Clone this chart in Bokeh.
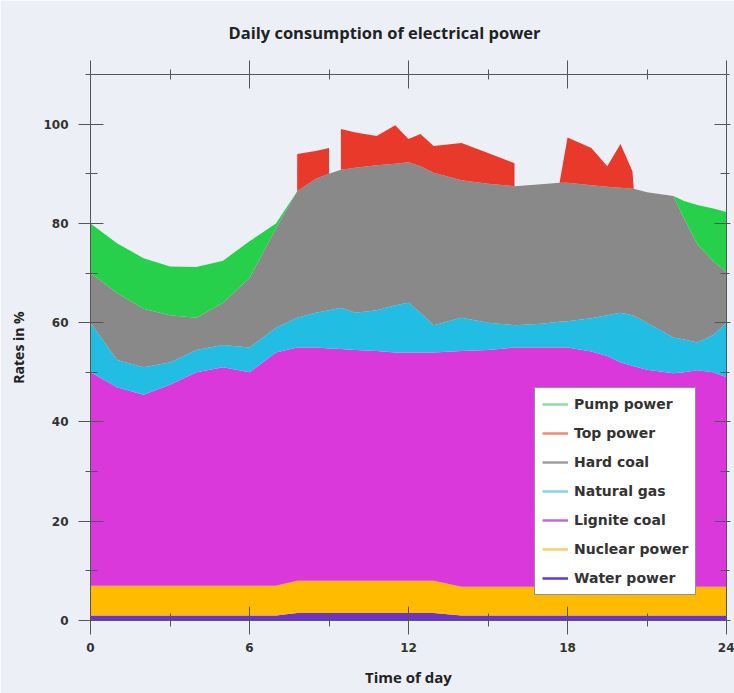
from bokeh.plotting import figure
from bokeh.models import (ColumnDataSource, LinearAxis, SingleIntervalTicker, Legend,
                          LegendItem, Range1d, CustomJSTickFormatter)
from bokeh.embed import file_html
from bokeh.resources import INLINE

# ---- data (hour of day, share in % per source; stacked bottom -> top) ----
hours = [0, 1, 2, 3, 4, 5, 6, 7, 7.8, 7.8, 8.5, 9, 9, 9.45, 9.45, 10, 10.8, 11.5, 12,
         12.45, 12.95, 14, 15, 16, 16, 17, 17.7, 18, 18.9, 19.5, 20, 20.45, 20.5, 21,
         22, 22.4, 22.9, 23.5, 24]
water = [1, 1, 1, 1, 1, 1, 1, 1, 1.5, 1.5, 1.5, 1.5, 1.5, 1.5, 1.5, 1.5, 1.5, 1.5, 1.5,
         1.5, 1.5, 1, 1, 1, 1, 1, 1, 1, 1, 1, 1, 1, 1, 1, 1, 1, 1, 1, 1]
nuclear = [6, 6, 6, 6, 6, 6, 6, 6, 6.5, 6.5, 6.5, 6.5, 6.5, 6.5, 6.5, 6.5, 6.5, 6.5, 6.5,
           6.5, 6.5, 5.8, 5.8, 5.8, 5.8, 5.8, 5.8, 5.8, 5.8, 5.8, 5.8, 5.8, 5.8, 5.8,
           5.8, 5.8, 5.8, 5.8, 5.8]
lignite = [43, 40, 38.5, 40.5, 43, 44, 43, 47, 47, 47, 47, 46.8, 46.8, 46.7, 46.7, 46.5,
           46.3, 46, 46, 46, 46, 47.5, 47.7, 48.2, 48.2, 48.2, 48.2, 48.2, 47.4, 46.5,
           45.2, 44.5, 44.4, 43.7, 43, 43.2, 43.6, 43.2, 42.2]
natural_gas = [10, 5.5, 5.5, 4.5, 4.5, 4.5, 5, 5, 6, 6, 7, 7.7, 7.7, 8.3, 8.3, 7.5, 8.2,
               9.5, 10, 8, 5.5, 6.7, 5.5, 4.5, 4.5, 4.8, 5.2, 5.3, 6.7, 8.2, 10, 10.2,
               10.2, 9.5, 7.2, 6.6, 5.6, 7.5, 11]
hard_coal = [10, 13.5, 11.8, 9.5, 6.5, 8.5, 14, 20, 25.5, 25.5, 27, 27.5, 27.5, 27.8,
             27.8, 29.2, 29.2, 28.5, 28.3, 29.5, 30.7, 27.7, 28, 28, 28, 28.1, 28, 27.9,
             26.8, 25.9, 25.2, 25.5, 25.6, 26.3, 28.5, 24.4, 19.8, 14.9, 10.2]
top_power = [0, 0, 0, 0, 0, 0, 0, 0, 0, 7.5, 5.6, 5.2, 0, 0, 8.2, 7.1, 5.9, 7.8, 4.7,
             6.5, 5.4, 7.5, 6.2, 4.6, 0, 0, 0, 9.1, 7.5, 4.1, 8.8, 3.5, 0, 0, 0, 0, 0,
             0, 0]
pump_power = [10, 10, 10.2, 9.8, 10.2, 8.5, 7.4, 1, 0, 0, 0, 0, 0, 0, 0, 0, 0, 0, 0, 0,
              0, 0, 0, 0, 0, 0, 0, 0, 0, 0, 0, 0, 0, 0, 0, 3.5, 7.9, 10.6, 12.1]

keys = ["water", "nuclear", "lignite", "natural_gas", "hard_coal", "top_power", "pump_power"]
names = ["Water power", "Nuclear power", "Lignite coal", "Natural gas", "Hard coal",
         "Top power", "Pump power"]
fill_colors = ["#6a35c8", "#ffbb00", "#da38da", "#22bde2", "#898989", "#e8392a", "#26d04a"]
legend_colors = ["#5b3ad6", "#f6cf6a", "#bd6fd0", "#86d3ec", "#9c9c9c", "#ee8a72", "#8fdca0"]

src = ColumnDataSource(dict(hours=hours, water=water, nuclear=nuclear, lignite=lignite,
                            natural_gas=natural_gas, hard_coal=hard_coal,
                            top_power=top_power, pump_power=pump_power))

BG = "#ecf0f6"
AX = "#555555"

p = figure(width=734, height=693, x_range=Range1d(0, 24), y_range=Range1d(0, 110),
           output_backend="svg", toolbar_location=None,
           min_border_left=90, min_border_right=8, min_border_top=74, min_border_bottom=73,
           background_fill_color=BG, border_fill_color=BG)
p.outline_line_color = None
p.xgrid.visible = False
p.ygrid.visible = False

p.varea_stack(stackers=keys, x="hours", color=fill_colors, source=src)

# ---- axes ----
def style_axis(ax, major_in, major_out, minor_in, minor_out):
    ax.axis_line_color = AX
    ax.major_tick_line_color = AX
    ax.minor_tick_line_color = AX
    ax.major_tick_in = major_in
    ax.major_tick_out = major_out
    ax.minor_tick_in = minor_in
    ax.minor_tick_out = minor_out

xa = p.xaxis[0]
xa.ticker = SingleIntervalTicker(interval=6, num_minor_ticks=2)
style_axis(xa, 14, 14, 7, 6)
xa.major_label_text_font = "DejaVu Sans"
xa.major_label_text_font_style = "bold"
xa.major_label_text_font_size = "12px"
xa.major_label_text_color = "#333333"
xa.major_label_standoff = 8
xa.axis_label = "Time of day"
xa.axis_label_text_font = "Open Sans"
xa.axis_label_text_font_style = "bold"
xa.axis_label_text_font_size = "15px"
xa.axis_label_text_color = "#222222"
xa.axis_label_standoff = 12

ya = p.yaxis[0]
ya.ticker = SingleIntervalTicker(interval=20, num_minor_ticks=2)
style_axis(ya, 13, 12, 7, 5)
ya.major_label_text_font = "DejaVu Sans"
ya.major_label_text_font_style = "bold"
ya.major_label_text_font_size = "12px"
ya.major_label_text_color = "#333333"
ya.major_label_standoff = 10
ya.axis_label = "Rates in %"
ya.axis_label_text_font = "Open Sans"
ya.axis_label_text_font_style = "bold"
ya.axis_label_text_font_size = "14px"
ya.axis_label_text_color = "#222222"
ya.axis_label_standoff = 12

blank = CustomJSTickFormatter(code="return ''")
top_ax = LinearAxis(ticker=SingleIntervalTicker(interval=6, num_minor_ticks=2), formatter=blank,
                    major_label_text_font_size="0px", major_label_standoff=0)
style_axis(top_ax, 14, 14, 5, 5)
p.add_layout(top_ax, "above")
right_ax = LinearAxis(ticker=SingleIntervalTicker(interval=20, num_minor_ticks=2), formatter=blank,
                      major_label_text_font_size="0px", major_label_standoff=0)
style_axis(right_ax, 12, 4, 6, 3)
p.add_layout(right_ax, "right")

# ---- title ----
p.title.text = "Daily consumption of electrical power"
p.title.align = "left"
p.title.offset = 138
p.title.standoff = 34
p.title.text_font = "Open Sans"
p.title.text_font_style = "bold"
p.title.text_font_size = "16.5px"
p.title.text_color = "#222222"

# ---- legend (line glyphs) ----
items = []
for name, col in reversed(list(zip(names, legend_colors))):
    r = p.line(x=[float("nan")], y=[float("nan")], line_color=col, line_width=2.5)
    items.append(LegendItem(label=name, renderers=[r]))
legend = Legend(items=items, location=(444, 25), padding=7, spacing=11,
                label_height=18, glyph_height=18, glyph_width=26, label_standoff=6,
                margin=0, label_text_font="DejaVu Sans", label_text_font_style="bold",
                label_text_font_size="14px",
                label_text_color="#333333", border_line_color="#222222",
                border_line_width=1.5, background_fill_color="white", background_fill_alpha=1)
p.add_layout(legend, "center")

open("out.html", "w").write(file_html(p, INLINE))
